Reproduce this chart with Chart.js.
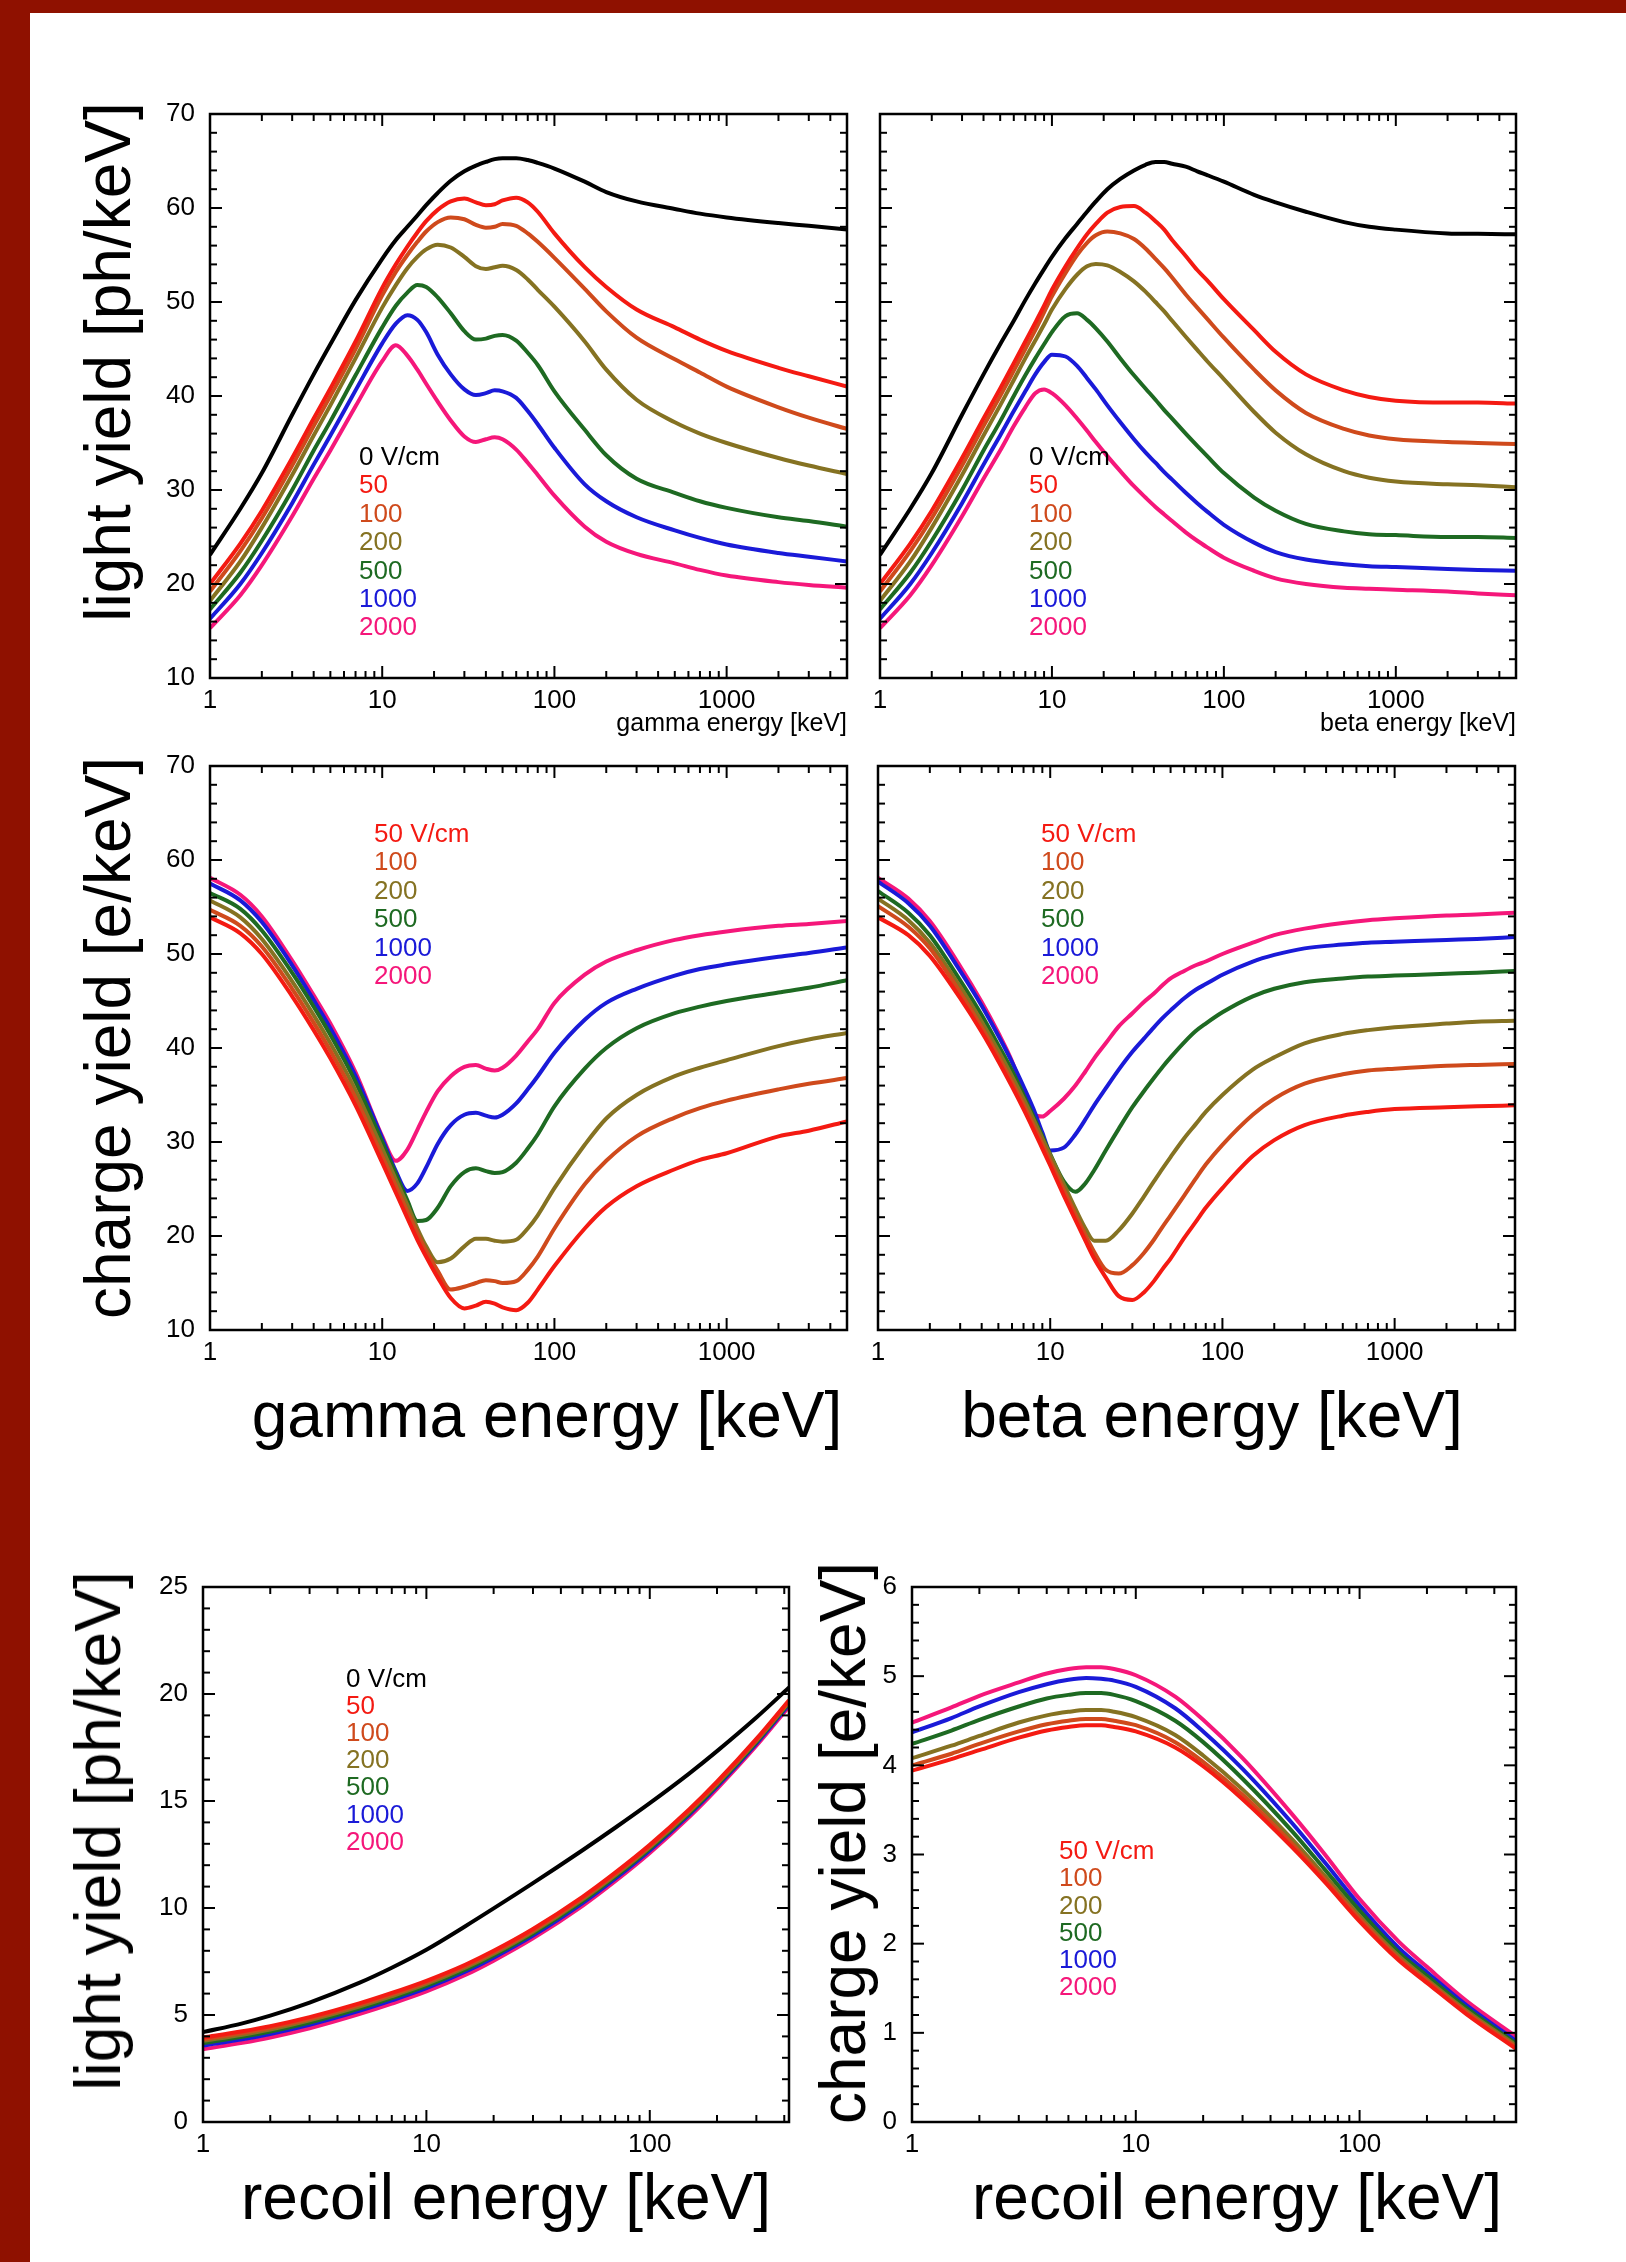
<!DOCTYPE html>
<html>
<head>
<meta charset="utf-8">
<script src="https://cdn.jsdelivr.net/npm/chart.js@4.4.1/dist/chart.umd.min.js"></script>
<style>
  body { margin: 0; background: #fff; }
  #page { position: relative; width: 1626px; height: 2262px; background: #fff; overflow: hidden;
          font-family: 'Liberation Sans', Arial, Helvetica, sans-serif; color: #000; }
  .band { position: absolute; background: #8f1100; }
  canvas { position: absolute; }
  .ytitle { position: absolute; font-size: 64px; line-height: 64px; white-space: nowrap;
            transform: translate(-50%, -50%) rotate(-90deg); }
  .xtitle { position: absolute; font-size: 64px; line-height: 64px; white-space: nowrap;
            transform: translateX(-50%); }
  .small { position: absolute; font-size: 25px; line-height: 25px; white-space: nowrap;
           transform: translateX(-100%); }
  .leg { position: absolute; font-size: 26px; line-height: 26px; white-space: nowrap; }
</style>
</head>
<body>
<div id="page">
  <div class="band" style="left:0;top:0;width:30px;height:2262px"></div>
  <div class="band" style="left:0;top:0;width:1626px;height:13px"></div>

  <canvas id="gLight"></canvas>
  <canvas id="bLight"></canvas>
  <canvas id="gCharge"></canvas>
  <canvas id="bCharge"></canvas>
  <canvas id="rLight"></canvas>
  <canvas id="rCharge"></canvas>

  <div class="ytitle" style="left:108px;top:362px">light yield [ph/keV]</div>
  <div class="ytitle" style="left:108px;top:1038px">charge yield [e/keV]</div>
  <div class="ytitle" style="left:98px;top:1831px">light yield [ph/keV]</div>
  <div class="ytitle" style="left:843px;top:1843px">charge yield [e/keV]</div>

  <div class="small" style="left:847px;top:710px">gamma energy [keV]</div>
  <div class="small" style="left:1516px;top:710px">beta energy [keV]</div>

  <div class="xtitle" style="left:547px;top:1383px">gamma energy [keV]</div>
  <div class="xtitle" style="left:1212px;top:1383px">beta energy [keV]</div>
  <div class="xtitle" style="left:506px;top:2165px">recoil energy [keV]</div>
  <div class="xtitle" style="left:1237px;top:2165px">recoil energy [keV]</div>
</div>

<script>
// Field labels and colours (0, 50, 100, 200, 500, 1000, 2000 V/cm)
const fieldLabels = ['0 V/cm', '50', '100', '200', '500', '1000', '2000'];
const chargeLabels = ['50 V/cm', '100', '200', '500', '1000', '2000'];
const fieldColors = ['#000000', '#f41a12', '#cf4a1c', '#857222', '#1e6a22', '#1a1ad8', '#f5177a'];

// Tick labels
const xTicksWide = [1, 10, 100, 1000];
const xTicksRecoil = [1, 10, 100];

// Energies [keV] at which the curves were read
const gammaEnergy = [1, 1.5, 2, 3, 4, 5, 7, 10, 12, 14, 16, 18, 21, 25, 30, 35, 40, 45, 50, 60, 70, 80, 100, 150, 200, 300, 500, 700, 1000, 2000, 3000, 5000];
const betaEnergy = [1, 1.5, 2, 3, 4, 5, 6, 7, 8, 9, 10, 12, 14, 16, 18, 21, 25, 30, 35, 40, 45, 50, 60, 70, 80, 100, 150, 200, 300, 500, 700, 1000, 2000, 3000, 5000];
const recoilLightEnergy = [1, 1.5, 2, 3, 5, 7, 10, 15, 20, 30, 50, 70, 100, 150, 200, 300, 420];
const recoilChargeEnergy = [1, 1.5, 2, 3, 4, 5, 6, 7, 8, 10, 15, 20, 30, 50, 70, 100, 150, 200, 300, 500];

// Gamma light yield [ph/keV]
const gLight0 = [23.1, 28.0, 31.8, 38.0, 42.3, 45.5, 50.2, 54.6, 56.6, 58.0, 59.2, 60.3, 61.6, 62.9, 63.9, 64.5, 64.9, 65.2, 65.3, 65.3, 65.1, 64.8, 64.2, 62.8, 61.7, 60.7, 59.9, 59.4, 59.0, 58.4, 58.1, 57.7];
const gLight50 = [20.0, 24.3, 27.8, 33.4, 37.6, 40.8, 45.8, 51.5, 54.0, 55.9, 57.4, 58.6, 59.8, 60.7, 61.0, 60.6, 60.3, 60.4, 60.8, 61.1, 60.6, 59.6, 57.3, 53.7, 51.6, 49.2, 47.3, 46.0, 44.8, 43.0, 42.1, 41.0];
const gLight100 = [19.2, 23.5, 27.0, 32.6, 36.8, 40.0, 45.0, 50.7, 53.2, 55.0, 56.4, 57.5, 58.5, 59.0, 58.8, 58.2, 57.9, 58.0, 58.3, 58.1, 57.3, 56.4, 54.7, 51.4, 49.0, 46.2, 43.9, 42.5, 41.0, 38.8, 37.7, 36.5];
const gLight200 = [18.2, 22.4, 26.0, 31.6, 35.8, 39.0, 44.0, 49.4, 51.8, 53.6, 54.8, 55.6, 56.1, 55.8, 54.8, 53.8, 53.5, 53.7, 53.85, 53.4, 52.4, 51.3, 49.5, 45.8, 42.8, 39.6, 37.2, 36.0, 35.0, 33.4, 32.6, 31.7];
const gLight500 = [17.3, 21.2, 24.6, 30.0, 34.2, 37.3, 42.2, 47.3, 49.6, 51.0, 51.8, 51.6, 50.5, 48.8, 46.9, 46.0, 46.1, 46.4, 46.5, 45.9, 44.6, 43.3, 40.5, 36.4, 33.7, 31.2, 29.7, 28.8, 28.1, 27.1, 26.7, 26.1];
const gLight1000 = [16.3, 20.0, 23.3, 28.6, 32.7, 35.8, 40.6, 45.6, 47.7, 48.6, 48.1, 46.8, 44.4, 42.3, 40.7, 40.1, 40.3, 40.6, 40.5, 39.8, 38.4, 37.0, 34.5, 30.6, 28.8, 27.1, 25.7, 24.9, 24.2, 23.3, 22.9, 22.4];
const gLight2000 = [15.3, 18.8, 22.0, 27.2, 31.2, 34.2, 38.9, 43.7, 45.4, 44.3, 42.8, 41.3, 39.4, 37.4, 35.7, 35.1, 35.4, 35.6, 35.4, 34.3, 32.9, 31.6, 29.4, 26.1, 24.5, 23.2, 22.2, 21.5, 20.9, 20.2, 19.9, 19.6];

// Beta light yield [ph/keV]
const bLight0 = [23.1, 28.0, 31.8, 38.0, 42.3, 45.5, 48.0, 50.2, 52.0, 53.5, 54.8, 56.8, 58.3, 59.6, 60.7, 62.0, 63.1, 64.0, 64.6, 64.9, 64.9, 64.7, 64.4, 63.9, 63.5, 62.8, 61.4, 60.6, 59.6, 58.5, 58.0, 57.7, 57.3, 57.25, 57.2];
const bLight50 = [20.0, 24.3, 27.8, 33.4, 37.6, 40.8, 43.5, 45.8, 47.8, 49.6, 51.3, 53.8, 55.7, 57.2, 58.3, 59.5, 60.1, 60.2, 59.5, 58.6, 57.7, 56.6, 54.9, 53.4, 52.3, 50.3, 47.0, 44.7, 42.3, 40.6, 39.9, 39.5, 39.3, 39.3, 39.2];
const bLight100 = [19.2, 23.5, 27.0, 32.6, 36.8, 40.0, 42.7, 45.0, 47.0, 48.9, 50.6, 53.1, 55.0, 56.3, 57.1, 57.5, 57.3, 56.7, 55.7, 54.6, 53.6, 52.6, 50.8, 49.4, 48.2, 46.2, 42.8, 40.6, 38.2, 36.5, 35.8, 35.4, 35.1, 35.0, 34.9];
const bLight200 = [18.2, 22.4, 26.0, 31.6, 35.8, 39.0, 41.7, 44.0, 45.9, 47.6, 49.2, 51.4, 52.9, 53.8, 54.05, 53.9, 53.2, 52.2, 51.1, 50.0, 49.0, 48.0, 46.3, 44.9, 43.7, 41.8, 38.3, 36.1, 33.8, 32.0, 31.3, 30.9, 30.6, 30.5, 30.3];
const bLight500 = [17.3, 21.2, 24.6, 30.0, 34.2, 37.3, 40.0, 42.2, 44.0, 45.5, 46.8, 48.5, 48.8, 48.1, 47.2, 45.8, 44.0, 42.2, 40.8, 39.6, 38.5, 37.6, 36.0, 34.7, 33.6, 31.8, 29.2, 27.8, 26.4, 25.6, 25.3, 25.2, 25.0, 25.0, 24.9];
const bLight1000 = [16.3, 20.0, 23.3, 28.6, 32.7, 35.8, 38.4, 40.5, 42.3, 43.6, 44.4, 44.2, 43.2, 41.9, 40.7, 39.0, 37.2, 35.4, 34.0, 32.9, 31.9, 31.1, 29.7, 28.6, 27.7, 26.3, 24.4, 23.4, 22.6, 22.1, 21.9, 21.8, 21.6, 21.5, 21.4];
const bLight2000 = [15.3, 18.8, 22.0, 27.2, 31.2, 34.2, 36.8, 38.8, 40.3, 40.7, 40.3, 39.0, 37.6, 36.3, 35.1, 33.6, 32.0, 30.4, 29.2, 28.2, 27.4, 26.7, 25.5, 24.6, 23.9, 22.8, 21.4, 20.6, 20.0, 19.6, 19.5, 19.4, 19.2, 19.0, 18.8];

// Gamma charge yield [e/keV]
const gCharge50 = [53.9, 52.2, 50.0, 45.5, 41.9, 38.9, 33.9, 27.8, 24.6, 21.9, 19.6, 17.8, 15.6, 13.4, 12.3, 12.6, 13.0, 12.8, 12.4, 12.1, 12.9, 14.3, 16.8, 20.8, 23.1, 25.3, 27.1, 28.1, 28.8, 30.6, 31.2, 32.2];
const gCharge100 = [54.7, 53.0, 50.8, 46.3, 42.7, 39.7, 34.7, 28.5, 25.3, 22.6, 20.3, 18.4, 16.3, 14.3, 14.6, 15.0, 15.3, 15.2, 15.0, 15.2, 16.4, 17.8, 20.8, 25.5, 28.0, 30.6, 32.6, 33.6, 34.4, 35.6, 36.2, 36.8];
const gCharge200 = [55.7, 53.9, 51.6, 47.1, 43.5, 40.5, 35.5, 29.3, 26.0, 23.3, 20.8, 18.9, 17.2, 17.6, 18.9, 19.7, 19.7, 19.5, 19.4, 19.6, 20.8, 22.2, 25.1, 29.7, 32.5, 35.0, 37.0, 37.9, 38.7, 40.2, 40.9, 41.6];
const gCharge500 = [56.5, 54.8, 52.5, 48.0, 44.4, 41.4, 36.4, 30.0, 26.6, 23.8, 21.6, 21.7, 23.0, 25.3, 26.8, 27.2, 26.9, 26.7, 26.8, 27.8, 29.3, 30.8, 33.8, 37.8, 40.0, 42.1, 43.7, 44.4, 45.0, 45.9, 46.4, 47.2];
const gCharge1000 = [57.5, 55.7, 53.4, 48.8, 45.1, 42.1, 37.0, 30.4, 26.9, 24.8, 25.6, 27.3, 29.8, 31.8, 32.9, 33.1, 32.8, 32.6, 32.9, 34.1, 35.6, 37.0, 39.5, 43.0, 44.8, 46.3, 47.7, 48.4, 48.9, 49.7, 50.1, 50.7];
const gCharge2000 = [58.1, 56.3, 54.0, 49.3, 45.6, 42.6, 37.4, 30.6, 28.0, 29.2, 31.3, 33.2, 35.4, 37.0, 38.0, 38.2, 37.8, 37.6, 37.9, 39.2, 40.7, 42.0, 44.8, 47.8, 49.2, 50.4, 51.5, 52.0, 52.4, 53.0, 53.2, 53.5];

// Beta charge yield [e/keV]
const bCharge50 = [53.9, 52.0, 49.8, 45.3, 41.7, 38.6, 35.9, 33.5, 31.3, 29.3, 27.5, 24.3, 21.7, 19.5, 17.6, 15.6, 13.6, 13.2, 14.0, 15.2, 16.5, 17.6, 19.8, 21.5, 23.0, 25.1, 28.5, 30.2, 31.8, 32.8, 33.2, 33.5, 33.7, 33.8, 33.9];
const bCharge100 = [55.1, 52.9, 50.6, 45.9, 42.2, 39.1, 36.4, 34.0, 31.8, 29.8, 28.0, 24.9, 22.3, 20.1, 18.3, 16.4, 16.0, 16.9, 18.2, 19.6, 21.0, 22.2, 24.3, 26.1, 27.6, 29.7, 32.9, 34.6, 36.2, 37.2, 37.6, 37.8, 38.1, 38.2, 38.3];
const bCharge200 = [55.9, 53.6, 51.2, 46.5, 42.8, 39.7, 37.0, 34.6, 32.4, 30.4, 28.6, 25.5, 22.9, 20.8, 19.5, 19.5, 20.6, 22.4, 24.2, 25.8, 27.2, 28.4, 30.4, 31.9, 33.2, 35.0, 37.7, 39.0, 40.5, 41.5, 41.9, 42.2, 42.6, 42.8, 42.9];
const bCharge500 = [56.7, 54.4, 52.0, 47.2, 43.5, 40.3, 37.6, 35.0, 32.7, 30.6, 28.7, 25.8, 24.7, 25.6, 27.0, 29.1, 31.4, 33.7, 35.4, 36.8, 38.0, 39.0, 40.6, 41.8, 42.6, 43.8, 45.5, 46.3, 47.0, 47.4, 47.6, 47.7, 47.9, 48.0, 48.2];
const bCharge1000 = [57.7, 55.4, 53.0, 48.2, 44.5, 41.3, 38.5, 35.9, 33.5, 31.0, 29.1, 29.4, 30.8, 32.4, 33.9, 35.7, 37.7, 39.6, 41.0, 42.2, 43.2, 44.0, 45.3, 46.2, 46.8, 47.8, 49.2, 49.9, 50.6, 51.0, 51.2, 51.3, 51.5, 51.6, 51.8];
const bCharge2000 = [58.1, 55.9, 53.5, 48.7, 44.9, 41.6, 38.6, 35.3, 33.0, 32.7, 33.3, 34.6, 36.0, 37.5, 38.9, 40.5, 42.3, 43.7, 44.9, 45.8, 46.7, 47.4, 48.2, 48.8, 49.2, 50.0, 51.2, 52.0, 52.7, 53.3, 53.6, 53.8, 54.1, 54.2, 54.4];

// Nuclear recoil light yield [ph/keV]
const rLight0 = [4.2, 4.61, 4.97, 5.58, 6.50, 7.21, 8.05, 9.16, 9.98, 11.16, 12.70, 13.75, 14.9, 16.28, 17.33, 18.90, 20.3];
const rLight50 = [3.95, 4.24, 4.48, 4.90, 5.54, 6.03, 6.60, 7.36, 8.00, 9.02, 10.52, 11.65, 12.95, 14.60, 15.90, 17.90, 19.71];
const rLight100 = [3.87, 4.16, 4.40, 4.82, 5.47, 5.96, 6.53, 7.29, 7.93, 8.95, 10.46, 11.59, 12.89, 14.55, 15.85, 17.85, 19.66];
const rLight200 = [3.79, 4.08, 4.32, 4.75, 5.39, 5.88, 6.45, 7.22, 7.86, 8.89, 10.40, 11.53, 12.84, 14.50, 15.80, 17.81, 19.62];
const rLight500 = [3.69, 3.98, 4.23, 4.65, 5.30, 5.79, 6.36, 7.13, 7.78, 8.81, 10.32, 11.46, 12.77, 14.43, 15.74, 17.75, 19.57];
const rLight1000 = [3.57, 3.86, 4.11, 4.54, 5.19, 5.68, 6.25, 7.03, 7.68, 8.71, 10.23, 11.37, 12.69, 14.36, 15.67, 17.68, 19.50];
const rLight2000 = [3.40, 3.70, 3.95, 4.38, 5.04, 5.53, 6.10, 6.88, 7.54, 8.58, 10.10, 11.25, 12.57, 14.25, 15.57, 17.58, 19.41];

// Nuclear recoil charge yield [e/keV]
const rCharge50 = [3.94, 4.07, 4.17, 4.31, 4.39, 4.43, 4.45, 4.45, 4.43, 4.38, 4.20, 3.99, 3.62, 3.08, 2.69, 2.25, 1.81, 1.56, 1.21, 0.82];
const rCharge100 = [4.00, 4.13, 4.24, 4.38, 4.46, 4.50, 4.52, 4.52, 4.50, 4.45, 4.26, 4.04, 3.67, 3.12, 2.72, 2.28, 1.83, 1.58, 1.23, 0.84];
const rCharge200 = [4.08, 4.22, 4.33, 4.48, 4.56, 4.60, 4.62, 4.62, 4.60, 4.54, 4.34, 4.11, 3.73, 3.17, 2.76, 2.31, 1.86, 1.60, 1.25, 0.86];
const rCharge500 = [4.24, 4.39, 4.51, 4.66, 4.75, 4.79, 4.81, 4.81, 4.79, 4.72, 4.50, 4.26, 3.85, 3.26, 2.83, 2.37, 1.90, 1.64, 1.28, 0.88];
const rCharge1000 = [4.37, 4.53, 4.66, 4.82, 4.91, 4.96, 4.98, 4.97, 4.95, 4.88, 4.64, 4.38, 3.96, 3.35, 2.91, 2.43, 1.95, 1.68, 1.31, 0.91];
const rCharge2000 = [4.48, 4.65, 4.78, 4.93, 5.03, 5.08, 5.10, 5.10, 5.08, 5.01, 4.77, 4.51, 4.08, 3.45, 3.00, 2.50, 2.02, 1.74, 1.36, 0.96];

const FONT = "'Liberation Sans', Arial, Helvetica, sans-serif";
const TOP_PAD = 32;

// box with inward major/minor ticks on all four sides
const frame = {
  id: 'frame',
  afterDatasetsDraw(chart, args, opts) {
    const { ctx, chartArea: a } = chart;
    const xs = chart.scales.x, ys = chart.scales.y;
    ctx.save();
    ctx.strokeStyle = '#000';
    ctx.lineWidth = 2;
    const seg = (x1, y1, x2, y2) => { ctx.beginPath(); ctx.moveTo(x1, y1); ctx.lineTo(x2, y2); ctx.stroke(); };
    for (let d = 0; d <= 4; d++) {
      for (let m = 1; m < 10; m++) {
        const v = m * Math.pow(10, d);
        if (v <= xs.min || v >= xs.max) continue;
        const px = xs.getPixelForValue(v);
        const len = m === 1 ? 12 : 7;
        seg(px, a.bottom, px, a.bottom - len);
        seg(px, a.top, px, a.top + len);
      }
    }
    const n = Math.round((ys.max - ys.min) / opts.minor);
    for (let i = 1; i < n; i++) {
      const v = ys.min + i * opts.minor;
      const py = ys.getPixelForValue(v);
      const r = v / opts.major;
      const len = Math.abs(r - Math.round(r)) < 1e-6 ? 12 : 7;
      seg(a.left, py, a.left + len, py);
      seg(a.right, py, a.right - len, py);
    }
    ctx.lineWidth = 2.5;
    ctx.strokeRect(a.left, a.top, a.right - a.left, a.bottom - a.top);
    ctx.restore();
  }
};

function makePanel(id, box, energies, series, colors, xMax, xTicks, y) {
  const canvas = document.getElementById(id);
  const w = box.W + 120, h = box.H + TOP_PAD + 60;
  canvas.width = w; canvas.height = h;
  canvas.style.left = (box.L - 100) + 'px';
  canvas.style.top = (box.T - TOP_PAD) + 'px';
  canvas.style.width = w + 'px';
  canvas.style.height = h + 'px';

  const datasets = series.map((vals, i) => ({
    data: energies.map((e, k) => ({ x: e, y: vals[k] })),
    borderColor: colors[i],
    borderWidth: 4,
    pointRadius: 0,
    fill: false,
    cubicInterpolationMode: 'monotone'
  }));

  new Chart(canvas.getContext('2d'), {
    type: 'line',
    data: { datasets },
    options: {
      responsive: false,
      animation: false,
      devicePixelRatio: 1,
      layout: { padding: { top: TOP_PAD, right: 20, left: 0, bottom: 0 } },
      plugins: { legend: { display: false }, tooltip: { enabled: false }, frame: { major: y.major, minor: y.minor } },
      scales: {
        x: {
          type: 'logarithmic',
          min: 1, max: xMax,
          grid: { display: false, drawTicks: false },
          border: { display: false },
          afterBuildTicks: s => { s.ticks = xTicks.map(v => ({ value: v })); },
          afterFit: s => { s.height = 60; },
          ticks: { callback: v => String(v), color: '#000', padding: 7, maxRotation: 0, autoSkip: false,
                   font: { family: FONT, size: 26 } }
        },
        y: {
          type: 'linear',
          min: y.min, max: y.max,
          grid: { display: false, drawTicks: false },
          border: { display: false },
          afterFit: s => { s.width = 100; },
          ticks: { display: y.labels, stepSize: y.major, color: '#000', padding: 15, callback: v => String(v),
                   font: { family: FONT, size: 26 } }
        }
      }
    },
    plugins: [frame]
  });
}

function legendText(x, y0, step, labels, colors) {
  const page = document.getElementById('page');
  labels.forEach((t, i) => {
    const d = document.createElement('div');
    d.className = 'leg';
    d.textContent = t;
    d.style.left = x + 'px';
    d.style.top = (y0 + i * step - 13) + 'px';
    d.style.color = colors[i];
    page.appendChild(d);
  });
}

const chargeColors = fieldColors.slice(1);

makePanel('gLight', { L: 210, T: 114, W: 637, H: 564 }, gammaEnergy,
  [gLight0, gLight50, gLight100, gLight200, gLight500, gLight1000, gLight2000],
  fieldColors, 5000, xTicksWide, { min: 10, max: 70, major: 10, minor: 2, labels: true });
makePanel('bLight', { L: 880, T: 114, W: 636, H: 564 }, betaEnergy,
  [bLight0, bLight50, bLight100, bLight200, bLight500, bLight1000, bLight2000],
  fieldColors, 5000, xTicksWide, { min: 10, max: 70, major: 10, minor: 2, labels: false });
makePanel('gCharge', { L: 210, T: 766, W: 637, H: 564 }, gammaEnergy,
  [gCharge50, gCharge100, gCharge200, gCharge500, gCharge1000, gCharge2000],
  chargeColors, 5000, xTicksWide, { min: 10, max: 70, major: 10, minor: 2, labels: true });
makePanel('bCharge', { L: 878, T: 766, W: 637, H: 564 }, betaEnergy,
  [bCharge50, bCharge100, bCharge200, bCharge500, bCharge1000, bCharge2000],
  chargeColors, 5000, xTicksWide, { min: 10, max: 70, major: 10, minor: 2, labels: false });
makePanel('rLight', { L: 203, T: 1587, W: 586, H: 535 }, recoilLightEnergy,
  [rLight0, rLight50, rLight100, rLight200, rLight500, rLight1000, rLight2000],
  fieldColors, 420, xTicksRecoil, { min: 0, max: 25, major: 5, minor: 1, labels: true });
makePanel('rCharge', { L: 912, T: 1587, W: 604, H: 535 }, recoilChargeEnergy,
  [rCharge50, rCharge100, rCharge200, rCharge500, rCharge1000, rCharge2000],
  chargeColors, 500, xTicksRecoil, { min: 0, max: 6, major: 1, minor: 0.2, labels: true });

// legends drawn as coloured text
legendText(359, 456, 28.4, fieldLabels, fieldColors);
legendText(1029, 456, 28.4, fieldLabels, fieldColors);
legendText(374, 833, 28.4, chargeLabels, chargeColors);
legendText(1041, 833, 28.4, chargeLabels, chargeColors);
legendText(346, 1678, 27.1, fieldLabels, fieldColors);
legendText(1059, 1850, 27.25, chargeLabels, chargeColors);
</script>
</body>
</html>
